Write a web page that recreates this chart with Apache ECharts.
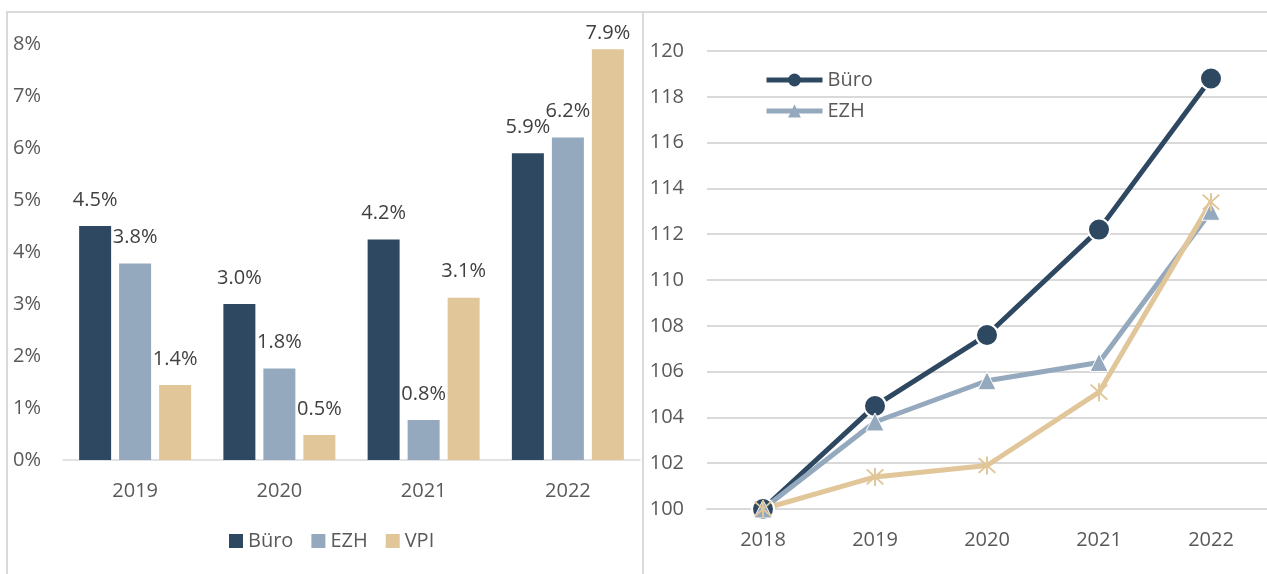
<!DOCTYPE html>
<html>
<head>
<meta charset="utf-8">
<script src="https://cdn.jsdelivr.net/npm/echarts@6/dist/echarts.min.js"></script>
<style>
  html, body { margin: 0; padding: 0; background: #fff; }
  .chart { position: absolute; left: 0; top: 0; width: 1267px; height: 574px; }
</style>
</head>
<body>
<div id="chartBar" class="chart"></div>
<div id="chartLine" class="chart"></div>
<script>
// Veränderung gegenüber Vorjahr (%)
var barYears = ['2019', '2020', '2021', '2022'];
var barBuero = [4.5, 3.0, 4.24, 5.9];
var barEzh = [3.78, 1.76, 0.77, 6.2];
var barVpi = [1.44, 0.48, 3.12, 7.9];

// Index 2018 = 100
var lineYears = ['2018', '2019', '2020', '2021', '2022'];
var lineBuero = [100, 104.5, 107.6, 112.2, 118.8];
var lineEzh = [100, 103.8, 105.6, 106.4, 113.0];
var lineVpi = [100, 101.4, 101.9, 105.1, 113.4];

var C_BUERO = '#2E4862', C_EZH = '#94A9BD', C_VPI = '#E0C699';
var TXT = '#595959', GRID = '#D9D9D9';
var FONT = 'Open Sans';

// Stern-Marker wie in Excel (X mit senkrechtem Strich)
var starPath = 'path://M9,0L11,0L11,20L9,20Z M1,2.4L2.4,1L19,17.6L17.6,19Z M17.6,1L19,2.4L2.4,19L1,17.6Z';

var myBar = echarts.init(document.getElementById('chartBar'));
var myLine = echarts.init(document.getElementById('chartLine'));

function barLabel(p) {
    return p.value.toFixed(1) + '%';
}

function barSeries(name, values, color) {
    return {
        name: name,
        type: 'bar',
        barWidth: 32,
        barGap: '25%',
        itemStyle: { color: color },
        label: {
            show: true,
            position: 'top',
            distance: 16,
            color: '#404040',
            fontFamily: FONT,
            fontSize: 20,
            formatter: barLabel
        },
        // oberstes Label rutscht in den Plotbereich
        data: values.map(function(v) {
            return v > 7.5 ? { value: v, label: { distance: 6 } } : v;
        })
    };
}

var optionBar = {
    backgroundColor: '#fff',
    animation: false,
    textStyle: { fontFamily: FONT },
    graphic: [
        { type: 'line', shape: { x1: 6, y1: 12, x2: 1267, y2: 12 }, style: { stroke: GRID, lineWidth: 2 } },
        { type: 'line', shape: { x1: 7, y1: 12, x2: 7, y2: 574 }, style: { stroke: GRID, lineWidth: 2 } },
        { type: 'line', shape: { x1: 643, y1: 12, x2: 643, y2: 574 }, style: { stroke: GRID, lineWidth: 2 } }
    ],
    legend: {
        data: ['Büro', 'EZH', 'VPI'],
        icon: 'rect',
        left: 224,
        top: 526,
        itemWidth: 14,
        itemHeight: 14,
        itemGap: 18,
        textStyle: { color: TXT, fontFamily: FONT, fontSize: 20 }
    },
    grid: { left: 63, top: 44, width: 577, height: 416 },
    xAxis: {
        type: 'category',
        data: barYears,
        axisLine: { lineStyle: { color: GRID, width: 1.5 } },
        axisTick: { show: false },
        axisLabel: { color: TXT, fontFamily: FONT, fontSize: 20, margin: 21 }
    },
    yAxis: {
        type: 'value',
        min: 0,
        max: 8,
        interval: 1,
        splitLine: { show: false },
        axisLine: { show: false },
        axisLabel: { color: TXT, fontFamily: FONT, fontSize: 20, margin: 22, formatter: '{value}%' }
    },
    series: [
        barSeries('Büro', barBuero, C_BUERO),
        barSeries('EZH', barEzh, C_EZH),
        barSeries('VPI', barVpi, C_VPI)
    ]
};

function lineSeries(name, values, color, symbol, size, border) {
    return {
        name: name,
        type: 'line',
        data: values,
        symbol: symbol,
        symbolSize: size,
        lineStyle: { color: color, width: 5 },
        itemStyle: { color: color, borderColor: '#fff', borderWidth: border }
    };
}

var optionLine = {
    animation: false,
    textStyle: { fontFamily: FONT },
    legend: {
        data: ['Büro', 'EZH'],
        orient: 'vertical',
        left: 759,
        top: 65,
        itemWidth: 56,
        itemHeight: 16,
        itemGap: 11,
        lineStyle: { width: 5 },
        itemStyle: { borderWidth: 0 },
        textStyle: { color: TXT, fontFamily: FONT, fontSize: 20 }
    },
    grid: { left: 707, top: 51, width: 577, height: 458 },
    xAxis: {
        type: 'category',
        data: lineYears,
        axisLine: { lineStyle: { color: GRID, width: 2 } },
        axisTick: { show: false },
        axisLabel: { color: TXT, fontFamily: FONT, fontSize: 20, margin: 21 }
    },
    yAxis: {
        type: 'value',
        min: 100,
        max: 120,
        interval: 2,
        axisLine: { show: false },
        splitLine: { lineStyle: { color: GRID, width: 2 } },
        axisLabel: { color: TXT, fontFamily: FONT, fontSize: 20, margin: 23 }
    },
    series: [
        lineSeries('Büro', lineBuero, C_BUERO, 'circle', 22, 2),
        lineSeries('EZH', lineEzh, C_EZH, 'triangle', 18, 1),
        lineSeries('VPI', lineVpi, C_VPI, starPath, 18, 0)
    ]
};

myBar.setOption(optionBar);
myLine.setOption(optionLine);
</script>
</body>
</html>
